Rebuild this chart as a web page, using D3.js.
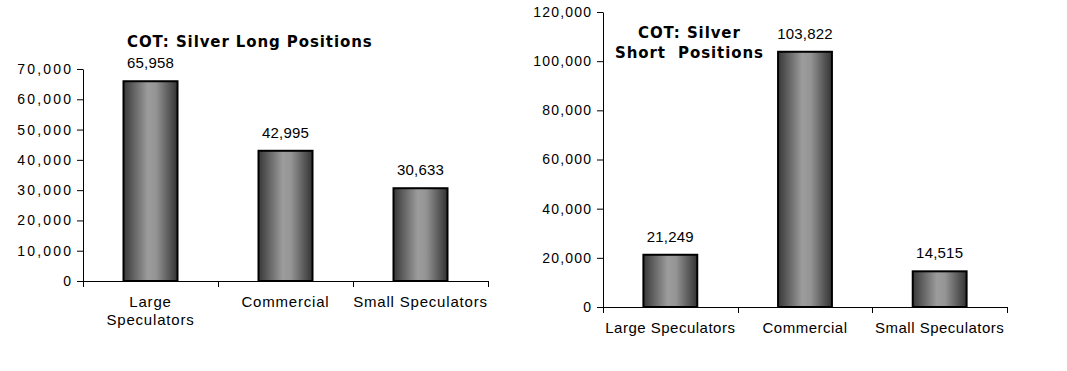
<!DOCTYPE html>
<html>
<head>
<meta charset="utf-8">
<script src="https://cdn.jsdelivr.net/npm/d3@7"></script>
<style>
  body { margin: 0; background: #fff; }
  svg text { font-family: "Liberation Sans", Arial, sans-serif; fill: #000; }
  .tick-label { font-size: 14px; }
  .val { font-size: 15px; letter-spacing: 0.2px; }
  .cat { font-size: 15px; }
  .title { font-family: "DejaVu Sans", Verdana, sans-serif; font-weight: bold; font-size: 15px; letter-spacing: 0.9px; }
</style>
</head>
<body>
<div id="viz"></div>
<script>
const width = 1067;
const height = 371;

// Data
const categories = ['Large Speculators', 'Commercial', 'Small Speculators'];
const longValues = [65958, 42995, 30633];
const shortValues = [21249, 103822, 14515];
const longTicks = [0, 10000, 20000, 30000, 40000, 50000, 60000, 70000];
const shortTicks = [0, 20000, 40000, 60000, 80000, 100000, 120000];

const svg = d3.select('#viz')
  .append('svg')
    .attr('width', width)
    .attr('height', height);

// Bar gradient: dark edges, light centre
const grad = svg.append('defs')
  .append('linearGradient')
    .attr('id', 'barGrad')
    .attr('x1', '0%').attr('x2', '100%')
    .attr('y1', '0%').attr('y2', '0%');
grad.selectAll('stop')
  .data([
    { o: '0%', c: '#383838' },
    { o: '45%', c: '#9c9c9c' },
    { o: '60%', c: '#959595' },
    { o: '100%', c: '#333333' }
  ])
  .join('stop')
    .attr('offset', d => d.o)
    .attr('stop-color', d => d.c);

const drawChart = (cfg) => {
  const scaleX = d3.scaleBand()
    .domain(categories)
    .range([cfg.left, cfg.right])
    .paddingInner(0.6)
    .paddingOuter(0.3);

  const scaleY = d3.scaleLinear()
    .domain([0, d3.max(cfg.ticks)])
    .range([cfg.bottom, cfg.top]);

  const g = svg.append('g');

  // Y axis
  const axisLeft = d3.axisLeft(scaleY)
    .tickValues(cfg.ticks)
    .tickFormat(d3.format(','))
    .tickSize(6)
    .tickSizeOuter(0);
  const yAxis = g.append('g')
    .attr('transform', `translate(${cfg.left},0)`)
    .call(axisLeft);
  yAxis.selectAll('text')
    .attr('class', 'tick-label')
    .style('letter-spacing', `${cfg.tickSpacing}px`)
    .attr('x', -12 + cfg.tickSpacing);
  yAxis.select('.domain').attr('stroke', '#000');

  // X axis with ticks between categories
  const boundaries = d3.range(categories.length + 1).map(i => cfg.left + i * (cfg.right - cfg.left) / categories.length);
  const xAxis = g.append('g');
  xAxis.append('line')
    .attr('x1', cfg.left).attr('x2', cfg.right)
    .attr('y1', cfg.bottom + 0.5).attr('y2', cfg.bottom + 0.5)
    .attr('stroke', '#000');
  xAxis.selectAll('.xtick')
    .data(boundaries)
    .join('line')
      .attr('class', 'xtick')
      .attr('x1', d => Math.round(d) + 0.5).attr('x2', d => Math.round(d) + 0.5)
      .attr('y1', cfg.bottom).attr('y2', cfg.bottom + 6)
      .attr('stroke', '#000');

  // Category labels
  g.selectAll('.cat')
    .data(categories)
    .join('text')
      .attr('class', 'cat')
      .attr('text-anchor', 'middle')
      .style('letter-spacing', `${cfg.catSpacing}px`)
      .attr('x', d => scaleX(d) + scaleX.bandwidth() / 2)
      .attr('y', cfg.bottom + 26)
      .each(function (d) {
        const lines = cfg.wrap && d === 'Large Speculators' ? ['Large', 'Speculators'] : [d];
        d3.select(this).selectAll('tspan')
          .data(lines)
          .join('tspan')
            .attr('x', scaleX(d) + scaleX.bandwidth() / 2)
            .attr('dy', (l, i) => i === 0 ? 0 : 18)
            .text(l => l);
      });

  // Bars
  g.selectAll('.bar')
    .data(cfg.values)
    .join('rect')
      .attr('class', 'bar')
      .attr('x', (d, i) => scaleX(categories[i]))
      .attr('y', d => scaleY(d))
      .attr('width', scaleX.bandwidth())
      .attr('height', d => cfg.bottom - scaleY(d))
      .attr('fill', 'url(#barGrad)')
      .attr('stroke', '#000')
      .attr('stroke-width', 2);

  // Value labels
  g.selectAll('.val')
    .data(cfg.values)
    .join('text')
      .attr('class', 'val')
      .attr('text-anchor', 'middle')
      .attr('x', (d, i) => scaleX(categories[i]) + scaleX.bandwidth() / 2)
      .attr('y', d => scaleY(d) - 13)
      .text(d => d3.format(',')(d));

  // Title, one text per line, left aligned
  g.selectAll('.title')
    .data(cfg.title)
    .join('text')
      .attr('class', 'title')
      .attr('x', d => d.x)
      .attr('y', d => d.y)
      .style('white-space', 'pre')
      .text(d => d.text);
};

drawChart({
  values: longValues, ticks: longTicks,
  left: 83, right: 488, top: 69, bottom: 281,
  wrap: true, tickSpacing: 2.2, catSpacing: 0.8,
  title: [{ text: 'COT: Silver Long Positions', x: 127, y: 47 }]
});

drawChart({
  values: shortValues, ticks: shortTicks,
  left: 603, right: 1007, top: 12, bottom: 307,
  wrap: false, tickSpacing: 1.2, catSpacing: 0.5,
  title: [
    { text: 'COT: Silver', x: 638, y: 38 },
    { text: 'Short  Positions', x: 615, y: 58 }
  ]
});
</script>
</body>
</html>
